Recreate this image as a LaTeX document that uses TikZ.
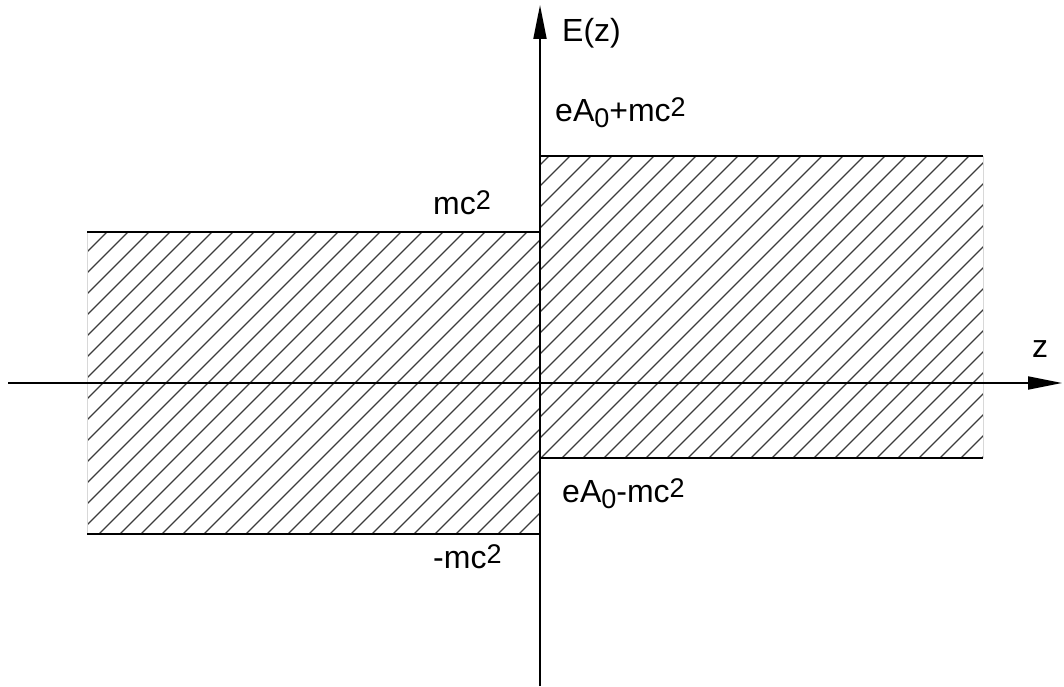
\documentclass[tikz,border=0pt]{standalone}
\usepackage{fontspec}
\setmainfont{Liberation Sans}
\usetikzlibrary{arrows.meta,positioning}
\definecolor{hatchgray}{HTML}{3C3C3C}
\definecolor{edgegray}{HTML}{D8D8D8}
\newcommand{\subsc}[1]{\raisebox{-6pt}{\fontsize{27}{27}\selectfont #1}}
\newcommand{\supsc}[1]{\raisebox{5pt}{\fontsize{27}{27}\selectfont #1}}
\begin{document}
\begin{tikzpicture}[x=1pt,y=1pt,
 axis/.style={line width=2pt,-{Triangle[length=34pt,width=13pt]}},
 level/.style={line width=2pt},
 hatch/.style={line width=1.1pt,hatchgray},
 lbl/.style={inner sep=0pt,anchor=base west,font=\fontsize{32}{38}\selectfont}]
\useasboundingbox (0,0) rectangle (1064,686);
% band corners
\coordinate (lnw) at (87,454); \coordinate (lsw) at (87,152);
\coordinate (lne) at (540,454); \coordinate (lse) at (540,152);
\coordinate (rnw) at (540,530); \coordinate (rsw) at (540,228);
\coordinate (rne) at (983,530); \coordinate (rse) at (983,228);
% hatching
\begin{scope}
\clip (lsw) rectangle (lne);
\foreach \i in {-36,...,30} \draw[hatch] ({110+21*\i},100) -- ++(500,500);
\end{scope}
\begin{scope}
\clip (rsw) rectangle (rne);
\foreach \i in {-20,...,46} \draw[hatch] ({119+21*\i},100) -- ++(500,500);
\end{scope}
\draw[edgegray,line width=.8pt] (lsw)--(lnw) (rse)--(rne);
\foreach \x/\y in {lnw/lne,lsw/lse,rnw/rne,rsw/rse} \draw[level] (\x)--(\y);
% axes
\coordinate (zl) at (8,303); \coordinate (zr) at (1062,303);
\coordinate (eb) at (540,0); \coordinate (et) at (540,681);
\draw[axis] (zl)--(zr);
\draw[axis] (eb)--(et);
% labels
\node[lbl] (elab) at (562,644) {E(z)};
\node[lbl] (zlab) at (1032,329) {z};
\node[lbl] (uptop) at (555,564) {eA\subsc{0}+mc\supsc{2}};
\node[lbl] (upbot) at (562,184) {eA\subsc{0}-mc\supsc{2}};
\node[lbl] (lotop) at (433,471) {mc\supsc{2}};
\node[lbl] (lobot) at (433,118) {-mc\supsc{2}};
\end{tikzpicture}
\end{document}
